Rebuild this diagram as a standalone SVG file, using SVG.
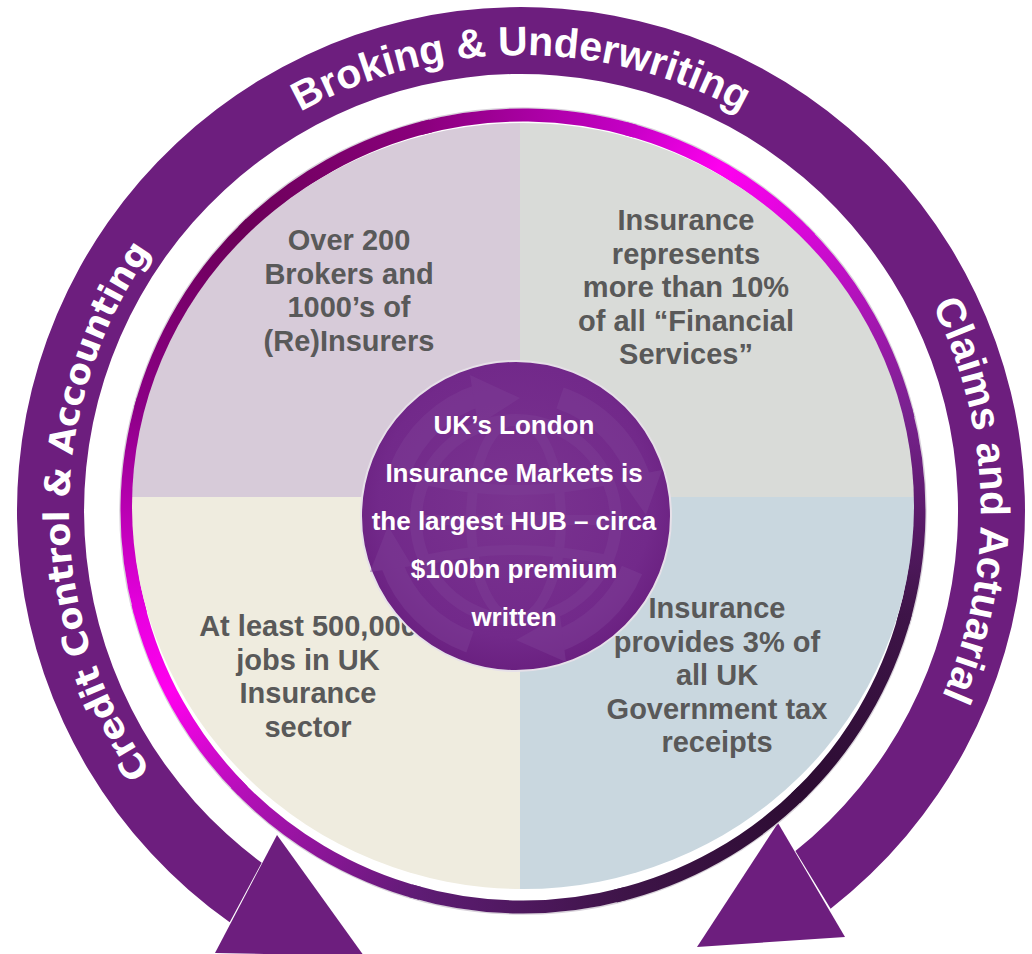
<svg xmlns="http://www.w3.org/2000/svg" width="1032" height="954" viewBox="0 0 1032 954">
<style>
.ring{fill:#6d1e7e}
.ringtxt{font-family:"Liberation Sans",Arial,sans-serif;font-weight:bold;font-size:41px;fill:#ffffff}
.ringtxt2{font-family:"DejaVu Sans",Verdana,sans-serif;font-weight:bold;font-size:35px;fill:#ffffff}
.qt{font-family:"Liberation Sans",Arial,sans-serif;font-weight:bold;font-size:29px;fill:#595959;text-anchor:middle}
.ct{font-family:"Liberation Sans",Arial,sans-serif;font-weight:bold;font-size:26px;fill:#ffffff;text-anchor:middle}
.seg{fill:none;stroke-width:13}
.globe{fill:none;stroke:#7d3d95}
</style>
<defs>
<clipPath id="disc"><ellipse cx="523" cy="506" rx="391" ry="383"/></clipPath>
<path id="tpTop" d="M 65 511 A 456 456 0 0 1 977 511"/>
<path id="tpLeft" d="M 521 963 A 452 452 0 0 1 521 59"/>
<path id="tpRight" d="M 521 51 A 460 460 0 0 1 521 971"/>
<linearGradient id="g1" gradientUnits="userSpaceOnUse" x1="243" y1="231" x2="420.5" y2="128.5"><stop offset="0" stop-color="#6b0058"/><stop offset="1" stop-color="#8a007c"/></linearGradient>
<linearGradient id="g2" gradientUnits="userSpaceOnUse" x1="420.5" y1="128.5" x2="625.5" y2="128.5"><stop offset="0" stop-color="#8a007c"/><stop offset="1" stop-color="#c400c4"/></linearGradient>
<linearGradient id="g3" gradientUnits="userSpaceOnUse" x1="625.5" y1="128.5" x2="803" y2="231"><stop offset="0" stop-color="#c400c4"/><stop offset="0.5" stop-color="#ff00f0"/><stop offset="1" stop-color="#d808d8"/></linearGradient>
<linearGradient id="g4" gradientUnits="userSpaceOnUse" x1="803" y1="231" x2="905.5" y2="408.5"><stop offset="0" stop-color="#d808d8"/><stop offset="1" stop-color="#7a2290"/></linearGradient>
<linearGradient id="g5" gradientUnits="userSpaceOnUse" x1="905.5" y1="408.5" x2="905.5" y2="613.5"><stop offset="0" stop-color="#7a2290"/><stop offset="1" stop-color="#3e1448"/></linearGradient>
<linearGradient id="g6" gradientUnits="userSpaceOnUse" x1="905.5" y1="613.5" x2="803" y2="791"><stop offset="0" stop-color="#3e1448"/><stop offset="1" stop-color="#2c0c32"/></linearGradient>
<linearGradient id="g7" gradientUnits="userSpaceOnUse" x1="803" y1="791" x2="625.5" y2="893.5"><stop offset="0" stop-color="#2c0c32"/><stop offset="1" stop-color="#3e1448"/></linearGradient>
<linearGradient id="g8" gradientUnits="userSpaceOnUse" x1="625.5" y1="893.5" x2="420.5" y2="893.5"><stop offset="0" stop-color="#3e1448"/><stop offset="1" stop-color="#5e1c74"/></linearGradient>
<linearGradient id="g9" gradientUnits="userSpaceOnUse" x1="420.5" y1="893.5" x2="243" y2="791"><stop offset="0" stop-color="#5e1c74"/><stop offset="1" stop-color="#b410b8"/></linearGradient>
<linearGradient id="g10" gradientUnits="userSpaceOnUse" x1="243" y1="791" x2="140.5" y2="613.5"><stop offset="0" stop-color="#b410b8"/><stop offset="0.6" stop-color="#ff00ee"/><stop offset="1" stop-color="#e800e0"/></linearGradient>
<linearGradient id="g11" gradientUnits="userSpaceOnUse" x1="140.5" y1="613.5" x2="140.5" y2="408.5"><stop offset="0" stop-color="#e800e0"/><stop offset="1" stop-color="#8c0086"/></linearGradient>
<linearGradient id="g12" gradientUnits="userSpaceOnUse" x1="140.5" y1="408.5" x2="243" y2="231"><stop offset="0" stop-color="#8c0086"/><stop offset="1" stop-color="#6b0058"/></linearGradient>
<radialGradient id="cg" cx="0.5" cy="0.45" r="0.55"><stop offset="0" stop-color="#7a3490"/><stop offset="0.8" stop-color="#72298a"/><stop offset="1" stop-color="#6a2080"/></radialGradient>
</defs>
<rect width="1032" height="954" fill="#ffffff"/>

<g id="connectors">
<path class="ring" d="M 229.7 922.3 A 504 504 0 1 1 830.6 908.7 L 795.4 851.1 A 437 437 0 1 0 261.7 862.7 Z"/>
<polygon class="ring" points="778,823 845,937 697,947"/>
<polygon class="ring" points="277,835 215,953 364,956"/>
</g>

<g id="ring-labels">
<text class="ringtxt"><textPath href="#tpTop" startOffset="50%" text-anchor="middle">Broking &amp; Underwriting</textPath></text>
<text class="ringtxt2"><textPath href="#tpLeft" startOffset="50%" text-anchor="middle">Credit Control &amp; Accounting</textPath></text>
<text class="ringtxt"><textPath href="#tpRight" startOffset="49.2%" text-anchor="middle">Claims and Actuarial</textPath></text>
</g>

<g id="border">
<circle cx="523" cy="511" r="403" fill="none" stroke="#d8d2da" stroke-width="1.5"/>
<path class="seg" stroke="url(#g1)" d="M 243 231 A 396 396 0 0 1 430.6 125.9"/>
<path class="seg" stroke="url(#g2)" d="M 420.5 128.5 A 396 396 0 0 1 635.5 131.3"/>
<path class="seg" stroke="url(#g3)" d="M 625.5 128.5 A 396 396 0 0 1 810.3 238.4"/>
<path class="seg" stroke="url(#g4)" d="M 803 231 A 396 396 0 0 1 908.1 418.6"/>
<path class="seg" stroke="url(#g5)" d="M 905.5 408.5 A 396 396 0 0 1 902.7 623.5"/>
<path class="seg" stroke="url(#g6)" d="M 905.5 613.5 A 396 396 0 0 1 795.6 798.3"/>
<path class="seg" stroke="url(#g7)" d="M 803 791 A 396 396 0 0 1 615.4 896.1"/>
<path class="seg" stroke="url(#g8)" d="M 625.5 893.5 A 396 396 0 0 1 410.5 890.7"/>
<path class="seg" stroke="url(#g9)" d="M 420.5 893.5 A 396 396 0 0 1 235.7 783.6"/>
<path class="seg" stroke="url(#g10)" d="M 243 791 A 396 396 0 0 1 137.9 603.4"/>
<path class="seg" stroke="url(#g11)" d="M 140.5 613.5 A 396 396 0 0 1 143.3 398.5"/>
<path class="seg" stroke="url(#g12)" d="M 140.5 408.5 A 396 396 0 0 1 250.4 223.7"/>
</g>

<g id="quadrant-brokers">
<rect x="100" y="100" width="420" height="397" fill="#d7cbd9" clip-path="url(#disc)"/>
<text class="qt" x="349" y="250">Over 200</text>
<text class="qt" x="349" y="283.5">Brokers and</text>
<text class="qt" x="349" y="317">1000’s of</text>
<text class="qt" x="349" y="350.5">(Re)Insurers</text>
</g>

<g id="quadrant-financial">
<rect x="520" y="100" width="420" height="397" fill="#d9dbd8" clip-path="url(#disc)"/>
<text class="qt" x="686" y="230">Insurance</text>
<text class="qt" x="686" y="263.5">represents</text>
<text class="qt" x="686" y="297">more than 10%</text>
<text class="qt" x="686" y="330.5">of all “Financial</text>
<text class="qt" x="686" y="364">Services”</text>
</g>

<g id="quadrant-jobs">
<rect x="100" y="497" width="420" height="420" fill="#efecdf" clip-path="url(#disc)"/>
<text class="qt" x="308" y="636">At least 500,000</text>
<text class="qt" x="308" y="669.5">jobs in UK</text>
<text class="qt" x="308" y="703">Insurance</text>
<text class="qt" x="308" y="736.5">sector</text>
</g>

<g id="quadrant-tax">
<rect x="520" y="497" width="420" height="420" fill="#c9d7df" clip-path="url(#disc)"/>
<text class="qt" x="717" y="618">Insurance</text>
<text class="qt" x="717" y="651.5">provides 3% of</text>
<text class="qt" x="717" y="685">all UK</text>
<text class="qt" x="717" y="718.5">Government tax</text>
<text class="qt" x="717" y="752">receipts</text>
</g>

<g id="hub">
<circle cx="516" cy="516" r="155" fill="url(#cg)" stroke="#e6e0e8" stroke-width="2"/>
<g opacity="0.5">
<circle class="globe" cx="516" cy="520" r="100" stroke-width="12"/>
<ellipse class="globe" cx="516" cy="520" rx="45" ry="100" stroke-width="10"/>
<path class="globe" stroke-width="10" d="M 425 480 Q 516 500 607 480 M 425 560 Q 516 540 607 560 M 416 520 L 616 520"/>
<path class="globe" stroke-width="22" d="M 400 470 A 128 128 0 0 1 480 395"/>
<polygon fill="#7d3d95" points="470,375 520,398 478,425"/>
<path class="globe" stroke-width="22" d="M 560 398 A 128 128 0 0 1 640 480"/>
<polygon fill="#7d3d95" points="620,478 662,470 646,515"/>
<path class="globe" stroke-width="22" d="M 632 570 A 128 128 0 0 1 555 642"/>
<polygon fill="#7d3d95" points="566,662 516,640 560,615"/>
<path class="globe" stroke-width="22" d="M 470 642 A 128 128 0 0 1 392 565"/>
<polygon fill="#7d3d95" points="412,566 370,572 388,526"/>
</g>
<text class="ct" x="514" y="434">UK’s London</text>
<text class="ct" x="514" y="482">Insurance Markets is</text>
<text class="ct" x="514" y="530">the largest HUB – circa</text>
<text class="ct" x="514" y="578">$100bn premium</text>
<text class="ct" x="514" y="626">written</text>
</g>
</svg>
